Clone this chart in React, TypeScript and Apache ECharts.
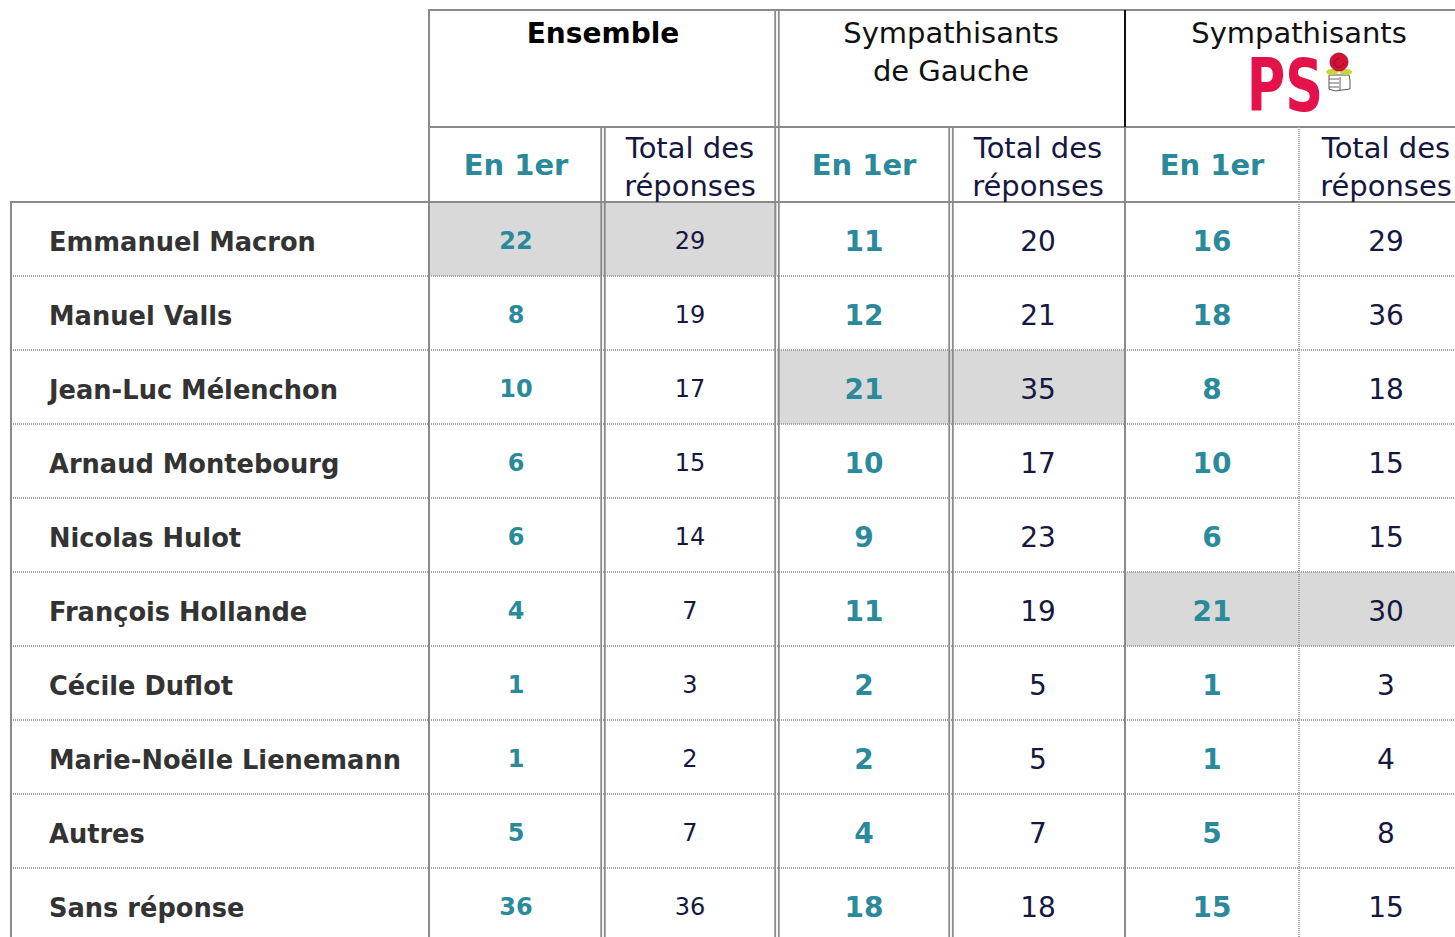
import React, { useEffect, useRef } from "react";
import * as echarts from "echarts";

// ---------- data ----------
const rowNames = [
  "Emmanuel Macron",
  "Manuel Valls",
  "Jean-Luc Mélenchon",
  "Arnaud Montebourg",
  "Nicolas Hulot",
  "François Hollande",
  "Cécile Duflot",
  "Marie-Noëlle Lienemann",
  "Autres",
  "Sans réponse",
];
const columnLabels = [
  "En 1er",
  "Total des\nréponses",
  "En 1er",
  "Total des\nréponses",
  "En 1er",
  "Total des\nréponses",
];
const groupTitles = ["Ensemble", "Sympathisants\nde Gauche", "Sympathisants"];
const ensembleFirst = [22, 8, 10, 6, 6, 4, 1, 1, 5, 36];
const ensembleTotal = [29, 19, 17, 15, 14, 7, 3, 2, 7, 36];
const gaucheFirst = [11, 12, 21, 10, 9, 11, 2, 2, 4, 18];
const gaucheTotal = [20, 21, 35, 17, 23, 19, 5, 5, 7, 18];
const psFirst = [16, 18, 8, 10, 6, 21, 1, 1, 5, 15];
const psTotal = [29, 36, 18, 15, 15, 30, 3, 4, 8, 15];
const highlightedRows = [0, 2, 5];

// ---------- styles ----------
const TEAL = "#2a8a9c";
const NAVY = "#15173f";
const NAME = "#333333";
const GRID = "#8a8a8a";
const DOT = "#a3a3a3";
const HI = "#d9d9d9";
const FONT = "DejaVu Sans";
const TABLE_LEFT = 11;
const HEADER_TOP = 10;
const HEADER_MID = 127;
const BODY_TOP = 202;
const W = 1455;
const H = 937;
const borderKinds = ["single", "double", "double", "double", "single", "dotted"];

const columns = [ensembleFirst, ensembleTotal, gaucheFirst, gaucheTotal, psFirst, psTotal];
const cellData: number[][] = [];
columns.forEach((vals, c) =>
  vals.forEach((v, r) =>
    cellData.push([c, r, v, highlightedRows[Math.floor(c / 2)] === r ? 1 : 0])
  )
);

function vLine(x: number, y1: number, y2: number, kind: string, z2 = 5, color = GRID): any[] {
  if (kind === "double") {
    return [
      { type: "line", z2, shape: { x1: x - 1.8, y1, x2: x - 1.8, y2 }, style: { stroke: color, lineWidth: 1.8 } },
      { type: "line", z2, shape: { x1: x + 1.8, y1, x2: x + 1.8, y2 }, style: { stroke: color, lineWidth: 1.8 } },
    ];
  }
  if (kind === "dotted") {
    return [{ type: "line", z2, shape: { x1: x, y1, x2: x, y2 }, style: { stroke: DOT, lineWidth: 2, lineDash: [1, 1] } }];
  }
  return [{ type: "line", z2, shape: { x1: x, y1, x2: x, y2 }, style: { stroke: color, lineWidth: 2 } }];
}

function renderCell(params: any, api: any) {
  const c = api.value(0);
  const r = api.value(1);
  const v = api.value(2);
  const hi = api.value(3);
  const pt = api.coord([c, r]);
  const sz = api.size([1, 1]);
  const cx = pt[0];
  const cy = pt[1];
  const w = sz[0];
  const h = sz[1];
  const left = cx - w / 2;
  const top = cy - h / 2;
  const bottom = cy + h / 2;
  const first = c % 2 === 0;
  const children: any[] = [];
  if (hi) {
    children.push({ type: "rect", z2: 0, shape: { x: left, y: top, width: w, height: h }, style: { fill: HI } });
  }
  children.push({
    type: "line",
    z2: 4,
    shape: { x1: c === 0 ? TABLE_LEFT : left, y1: bottom, x2: left + w, y2: bottom },
    style: { stroke: DOT, lineWidth: 2, lineDash: [1, 1] },
  });
  vLine(left, top, bottom, borderKinds[c]).forEach((e) => children.push(e));
  children.push({
    type: "text",
    z2: 20,
    x: cx,
    y: cy + 2,
    style: {
      text: String(v),
      fill: first ? TEAL : NAVY,
      fontSize: c < 2 ? 24 : 28,
      fontWeight: first ? "bold" : "normal",
      fontFamily: FONT,
      textAlign: "center",
      textVerticalAlign: "middle",
    },
  });
  return { type: "group", children };
}

export default function App() {
  const ref = useRef<HTMLDivElement>(null);
  useEffect(() => {
    document.body.style.margin = "0";
    if (!ref.current) return;
    const chart = echarts.init(ref.current, null, { renderer: "svg" });
    const option: any = {
      animation: false,
      backgroundColor: "#ffffff",
      grid: {
        left: 429,
        top: BODY_TOP,
        width: 174 * 6,
        height: 74 * 10,
        containLabel: false,
        outerBoundsMode: "none",
      },
      xAxis: {
        type: "category",
        position: "top",
        data: columnLabels,
        axisLine: { show: false },
        axisTick: { show: false },
        splitLine: { show: false },
        axisLabel: { show: false },
      },
      yAxis: {
        type: "category",
        inverse: true,
        data: rowNames,
        axisLine: { show: false },
        axisTick: { show: false },
        splitLine: { show: false },
        axisLabel: {
          interval: 0,
          margin: 380,
          align: "left",
          verticalAlign: "middle",
          formatter: (v: string) => `{n|${v}}`,
          rich: {
            n: {
              padding: [5, 0, 0, 0],
              fontSize: 25.7,
              fontWeight: "bold",
              color: NAME,
              fontFamily: FONT,
            },
          },
          fontSize: 25.7,
          fontWeight: "bold",
          color: NAME,
          fontFamily: FONT,
        },
      },
      series: [
        {
          type: "custom",
          renderItem: renderCell,
          data: cellData,
          clip: false,
          encode: { x: 0, y: 1 },
        },
      ],
    };
    chart.setOption(option);

    const centers = [0, 1, 2, 3, 4, 5].map((i) => chart.convertToPixel({ xAxisIndex: 0 }, i) as number);
    const band = centers[1] - centers[0];
    const edges = centers.map((x) => x - band / 2);
    const groupCenter = [0, 1, 2].map((g) => edges[g * 2] + band);

    const g: any[] = [];
    // horizontal header lines
    g.push({ type: "line", z: 10, shape: { x1: edges[0] - 1, y1: HEADER_TOP, x2: W, y2: HEADER_TOP }, style: { stroke: GRID, lineWidth: 2 } });
    g.push({ type: "line", z: 10, shape: { x1: edges[0], y1: HEADER_MID, x2: W, y2: HEADER_MID }, style: { stroke: GRID, lineWidth: 2 } });
    g.push({ type: "line", z: 10, shape: { x1: TABLE_LEFT - 1, y1: BODY_TOP, x2: W, y2: BODY_TOP }, style: { stroke: GRID, lineWidth: 2 } });
    // vertical header lines
    const vl: any[] = [];
    vLine(edges[0], HEADER_TOP, BODY_TOP, "single").forEach((e) => vl.push(e));
    vLine(edges[2], HEADER_TOP, BODY_TOP, "double").forEach((e) => vl.push(e));
    vLine(edges[4], HEADER_TOP, HEADER_MID, "single", 5, "#111111").forEach((e) => vl.push(e));
    vLine(edges[4], HEADER_MID, BODY_TOP, "single").forEach((e) => vl.push(e));
    vLine(edges[1], HEADER_MID, BODY_TOP, "double").forEach((e) => vl.push(e));
    vLine(edges[3], HEADER_MID, BODY_TOP, "double").forEach((e) => vl.push(e));
    vLine(edges[5], HEADER_MID, BODY_TOP, "dotted").forEach((e) => vl.push(e));
    vLine(TABLE_LEFT, BODY_TOP, H, "single").forEach((e) => vl.push(e));
    vl.forEach((e) => {
      const { z2, ...rest } = e;
      g.push({ ...rest, z: 10 });
    });

    // column headers
    columnLabels.forEach((lab, i) => {
      const first = i % 2 === 0;
      g.push({
        type: "text",
        z: 10,
        x: centers[i],
        y: first ? 165 : 167,
        style: {
          text: lab,
          fill: first ? TEAL : NAVY,
          fontSize: 29,
          fontWeight: first ? "bold" : "normal",
          lineHeight: 38,
          fontFamily: FONT,
          textAlign: "center",
          textVerticalAlign: "middle",
        },
      });
    });

    // group titles
    g.push({
      type: "text",
      z: 10,
      x: groupCenter[0],
      y: 33,
      style: { text: groupTitles[0], fill: "#000000", fontSize: 28, fontWeight: "bold", fontFamily: FONT, textAlign: "center", textVerticalAlign: "middle" },
    });
    g.push({
      type: "text",
      z: 10,
      x: groupCenter[1],
      y: 52,
      style: { text: groupTitles[1], fill: "#111111", fontSize: 29, lineHeight: 38, fontFamily: FONT, textAlign: "center", textVerticalAlign: "middle" },
    });
    g.push({
      type: "text",
      z: 10,
      x: groupCenter[2],
      y: 33,
      style: { text: groupTitles[2], fill: "#111111", fontSize: 29, fontFamily: FONT, textAlign: "center", textVerticalAlign: "middle" },
    });
    // PS logo
    const px = groupCenter[2] - 14;
    g.push({
      type: "text",
      z: 10,
      x: px,
      y: 86,
      scaleX: 0.72,
      style: { text: "PS", fill: "#e3124b", fontSize: 73, fontWeight: "bold", fontFamily: FONT, textAlign: "center", textVerticalAlign: "middle" },
    });
    const rx = px + 54;
    g.push({ type: "polygon", z: 10, shape: { points: [[rx - 10, 75], [rx + 10, 75], [rx + 11, 80], [rx + 11, 89], [rx - 4, 91], [rx - 10, 89]] }, style: { fill: "#ffffff", stroke: "#555555", lineWidth: 1 } });
    g.push({ type: "line", z: 10, shape: { x1: rx - 10, y1: 79, x2: rx, y2: 79 }, style: { stroke: "#666666", lineWidth: 1 } });
    g.push({ type: "line", z: 10, shape: { x1: rx - 10, y1: 83, x2: rx, y2: 83 }, style: { stroke: "#666666", lineWidth: 1 } });
    g.push({ type: "line", z: 10, shape: { x1: rx - 10, y1: 87, x2: rx, y2: 87 }, style: { stroke: "#666666", lineWidth: 1 } });
    g.push({ type: "line", z: 10, shape: { x1: rx + 1, y1: 77, x2: rx + 1, y2: 90 }, style: { stroke: "#666666", lineWidth: 1 } });
    g.push({ type: "ellipse", z: 10, shape: { cx: rx - 7, cy: 72, rx: 6, ry: 3 }, style: { fill: "#c9d33a" } });
    g.push({ type: "ellipse", z: 10, shape: { cx: rx + 7, cy: 72, rx: 6, ry: 3 }, style: { fill: "#c9d33a" } });
    g.push({ type: "circle", z: 10, shape: { cx: rx, cy: 62, r: 9 }, style: { fill: "#d41236", stroke: "#8c0a22", lineWidth: 0.8 } });
    g.push({ type: "arc", z: 10, shape: { cx: rx, cy: 63, r: 4.5, startAngle: 0, endAngle: Math.PI * 1.5 }, style: { stroke: "#8c0a22", lineWidth: 1, fill: "none" } });

    chart.setOption({ graphic: g });
    return () => chart.dispose();
  }, []);
  return <div ref={ref} style={{ width: W, height: H, position: "absolute", left: 0, top: 0 }} />;
}
